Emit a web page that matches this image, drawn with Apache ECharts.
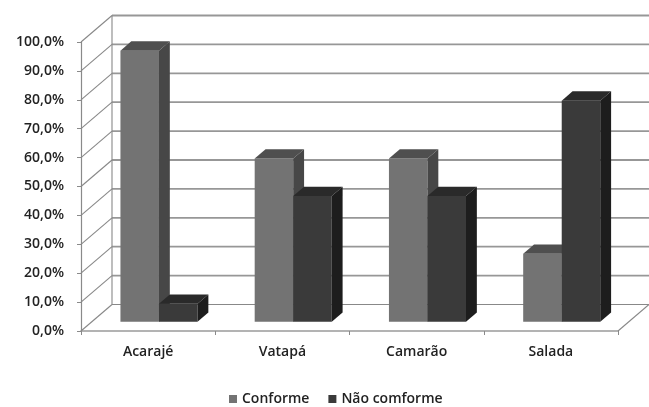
<!DOCTYPE html>
<html>
<head>
<meta charset="utf-8">
<script src="https://cdn.jsdelivr.net/npm/echarts@6/dist/echarts.min.js"></script>
<style>
  html, body { margin: 0; padding: 0; background: #ffffff; }
  #chart { width: 649px; height: 407px; }
</style>
</head>
<body>
<div id="chart"></div>
<script>
// Chart data
const categories = ['Acarajé', 'Vatapá', 'Camarão', 'Salada'];
const conforme = [93.8, 56.5, 56.5, 23.5];
const naoConforme = [6.2, 43.5, 43.5, 76.5];
const seriesNames = ['Conforme', 'Não comforme'];
const yTicks = [0, 10, 20, 30, 40, 50, 60, 70, 80, 90, 100];

// Oblique 3D box: full depth offset of the walls, in pixels
const DEPTH = [31, -26.5];
// Columns sit between these fractions of the depth
const BAR_FRONT = 0.35;
const BAR_BACK = 0.70;
const BAR_SHARE = 0.287; // column width relative to category band

const palette = {
  conforme: { front: '#737373', top: '#4f4f4f', side: '#474747' },
  nao: { front: '#3a3a3a', top: '#2a2a2a', side: '#1d1d1d' }
};

const font = '"Open Sans", "DejaVu Sans", sans-serif';

// Walls, floor and gridlines of the 3D box
function renderWalls(params, api) {
  const bw = api.size([1, 0])[0];
  const children = [];
  const grid = { stroke: '#979797', lineWidth: 1.8 };
  const diag = { stroke: '#888888', lineWidth: 1.1 };
  const left0 = api.coord([0, 0])[0] - bw / 2;
  const right0 = api.coord([categories.length - 1, 0])[0] + bw / 2;
  yTicks.forEach(function (v) {
    const y = api.coord([0, v])[1];
    // side wall diagonal
    children.push({
      type: 'line',
      shape: { x1: left0, y1: y, x2: left0 + DEPTH[0], y2: y + DEPTH[1] },
      style: diag
    });
    // back wall gridline
    children.push({
      type: 'line',
      shape: { x1: left0 + DEPTH[0], y1: y + DEPTH[1], x2: right0 + DEPTH[0], y2: y + DEPTH[1] },
      style: v === 0 ? diag : grid
    });
  });
  const yb = api.coord([0, 0])[1];
  const yt = api.coord([0, yTicks[yTicks.length - 1]])[1];
  // back wall left edge
  children.push({
    type: 'line',
    shape: { x1: left0 + DEPTH[0], y1: yb + DEPTH[1], x2: left0 + DEPTH[0], y2: yt + DEPTH[1] },
    style: diag
  });
  // floor right edge
  children.push({
    type: 'line',
    shape: { x1: right0, y1: yb, x2: right0 + DEPTH[0], y2: yb + DEPTH[1] },
    style: diag
  });
  return { type: 'group', children: children };
}

// One 3D column: front face, top face and right side face
function columnRenderer(side, colors) {
  return function (params, api) {
    const i = api.value(0);
    const v = api.value(1);
    const base = api.coord([i, 0]);
    const top = api.coord([i, v]);
    const bw = api.size([1, 0])[0];
    const barW = bw * BAR_SHARE;
    const fx = DEPTH[0] * BAR_FRONT, fy = DEPTH[1] * BAR_FRONT;
    const ddx = DEPTH[0] * (BAR_BACK - BAR_FRONT), ddy = DEPTH[1] * (BAR_BACK - BAR_FRONT);
    const x0 = base[0] + (side === 0 ? -barW : 0) + fx;
    const x1 = x0 + barW;
    const yb = base[1] + fy;
    const yt = top[1] + fy;
    return {
      type: 'group',
      children: [
        {
          type: 'polygon',
          shape: { points: [[x0, yb], [x1, yb], [x1, yt], [x0, yt]] },
          style: { fill: colors.front }
        },
        {
          type: 'polygon',
          shape: { points: [[x0, yt], [x1, yt], [x1 + ddx, yt + ddy], [x0 + ddx, yt + ddy]] },
          style: { fill: colors.top }
        },
        {
          type: 'polygon',
          shape: { points: [[x1, yb], [x1 + ddx, yb + ddy], [x1 + ddx, yt + ddy], [x1, yt]] },
          style: { fill: colors.side }
        }
      ]
    };
  };
}

const chart = echarts.init(document.getElementById('chart'), null, { renderer: 'canvas' });

chart.setOption({
  animation: false,
  backgroundColor: '#ffffff',
  grid: { left: 81, right: 31, top: 42, bottom: 76 },
  legend: {
    data: seriesNames,
    top: 387,
    left: 224,
    icon: 'rect',
    itemWidth: 8,
    itemHeight: 8,
    itemGap: 19,
    textStyle: { fontFamily: font, fontSize: 14, color: '#222', fontWeight: 600 }
  },
  xAxis: {
    type: 'category',
    data: categories,
    boundaryGap: true,
    axisLine: { show: true, lineStyle: { color: '#9a9a9a', width: 1.5 } },
    axisTick: { show: true, length: 4, lineStyle: { color: '#8a8a8a' } },
    axisLabel: { fontFamily: font, fontSize: 14, color: '#222', fontWeight: 600, margin: 14 }
  },
  yAxis: {
    type: 'value',
    min: 0,
    max: 100,
    interval: 10,
    axisLine: { show: true, lineStyle: { color: '#8a8a8a', width: 1.2 } },
    axisTick: { show: true, length: 4, lineStyle: { color: '#8a8a8a' } },
    splitLine: { show: false },
    axisLabel: {
      fontFamily: font, fontSize: 14, color: '#222', fontWeight: 600, margin: 17,
      formatter: function (v) { return v.toFixed(1).replace('.', ',') + '%'; }
    }
  },
  series: [
    {
      name: 'walls',
      type: 'custom',
      renderItem: renderWalls,
      data: [[0, 0]],
      silent: true,
      z: 1
    },
    {
      name: seriesNames[0],
      type: 'custom',
      renderItem: columnRenderer(0, palette.conforme),
      itemStyle: { color: palette.conforme.front },
      data: conforme.map(function (v, i) { return [i, v]; }),
      z: 2
    },
    {
      name: seriesNames[1],
      type: 'custom',
      renderItem: columnRenderer(1, palette.nao),
      itemStyle: { color: palette.nao.front },
      data: naoConforme.map(function (v, i) { return [i, v]; }),
      z: 3
    }
  ]
});
</script>
</body>
</html>
